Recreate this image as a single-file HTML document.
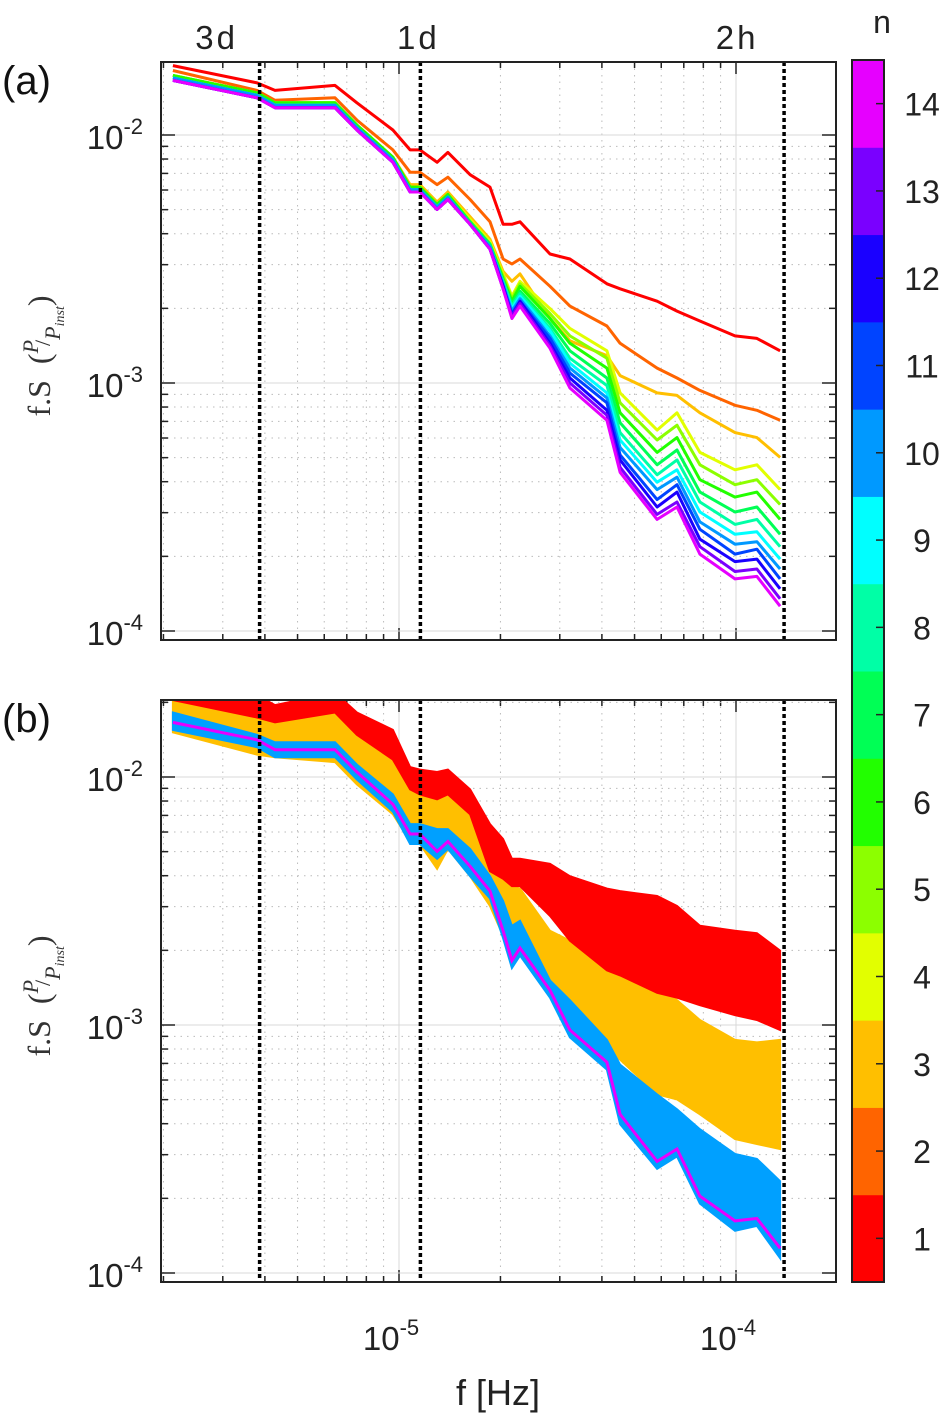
<!DOCTYPE html>
<html><head><meta charset="utf-8"><style>
html,body{margin:0;padding:0;background:#fff;}
svg{display:block;font-family:"Liberation Sans",sans-serif;}
</style></head><body>
<svg id="fig" width="945" height="1417" viewBox="0 0 945 1417" xmlns="http://www.w3.org/2000/svg"></svg>
<script>
// ---- data (log10 values) ----
const logFreq = [-5.671,-5.421,-5.368,-5.190,-5.125,-5.018,-4.967,-4.938,-4.887,-4.855,-4.789,-4.730,-4.691,-4.665,-4.641,-4.552,-4.493,-4.383,-4.344,-4.234,-4.175,-4.107,-4.003,-3.938,-3.869];
const seriesN1  = [-1.72,-1.79,-1.82,-1.80,-1.87,-1.98,-2.06,-2.06,-2.11,-2.07,-2.16,-2.21,-2.36,-2.36,-2.35,-2.48,-2.50,-2.60,-2.62,-2.67,-2.71,-2.75,-2.81,-2.82,-2.87];
const seriesN2  = [-1.74,-1.82,-1.86,-1.85,-1.94,-2.06,-2.15,-2.15,-2.20,-2.17,-2.26,-2.35,-2.50,-2.52,-2.50,-2.61,-2.69,-2.77,-2.84,-2.94,-2.98,-3.03,-3.09,-3.11,-3.15];
const seriesN3  = [-1.76,-1.83,-1.87,-1.87,-1.96,-2.09,-2.20,-2.20,-2.27,-2.23,-2.33,-2.42,-2.55,-2.59,-2.56,-2.74,-2.83,-2.89,-2.97,-3.04,-3.05,-3.12,-3.20,-3.22,-3.30];
const seriesN4  = [-1.76,-1.83,-1.87,-1.87,-1.96,-2.09,-2.21,-2.21,-2.28,-2.24,-2.34,-2.43,-2.56,-2.65,-2.59,-2.70,-2.78,-2.87,-3.04,-3.19,-3.12,-3.28,-3.35,-3.33,-3.43];
const seriesN5  = [-1.76,-1.83,-1.87,-1.87,-1.96,-2.09,-2.21,-2.21,-2.28,-2.24,-2.35,-2.44,-2.57,-2.66,-2.60,-2.72,-2.81,-2.90,-3.08,-3.23,-3.17,-3.33,-3.41,-3.39,-3.49];
const seriesN6  = [-1.76,-1.83,-1.87,-1.87,-1.96,-2.09,-2.21,-2.21,-2.28,-2.24,-2.35,-2.44,-2.58,-2.67,-2.61,-2.74,-2.84,-2.94,-3.12,-3.28,-3.22,-3.39,-3.46,-3.44,-3.55];
const seriesN7  = [-1.77,-1.84,-1.88,-1.88,-1.97,-2.10,-2.22,-2.22,-2.29,-2.25,-2.35,-2.44,-2.59,-2.68,-2.63,-2.76,-2.87,-2.98,-3.16,-3.33,-3.27,-3.44,-3.52,-3.50,-3.61];
const seriesN8  = [-1.77,-1.84,-1.88,-1.88,-1.97,-2.10,-2.22,-2.22,-2.29,-2.25,-2.36,-2.45,-2.59,-2.69,-2.64,-2.78,-2.90,-3.01,-3.20,-3.37,-3.31,-3.48,-3.57,-3.55,-3.66];
const seriesN9  = [-1.77,-1.84,-1.88,-1.88,-1.97,-2.10,-2.22,-2.22,-2.29,-2.25,-2.36,-2.45,-2.60,-2.70,-2.65,-2.79,-2.92,-3.04,-3.23,-3.40,-3.35,-3.52,-3.61,-3.60,-3.71];
const seriesN10 = [-1.77,-1.84,-1.88,-1.88,-1.97,-2.10,-2.22,-2.22,-2.29,-2.25,-2.36,-2.45,-2.60,-2.71,-2.66,-2.81,-2.94,-3.06,-3.26,-3.43,-3.38,-3.56,-3.65,-3.64,-3.75];
const seriesN11 = [-1.78,-1.85,-1.89,-1.89,-1.98,-2.11,-2.23,-2.23,-2.30,-2.26,-2.36,-2.46,-2.61,-2.72,-2.67,-2.82,-2.96,-3.08,-3.29,-3.47,-3.41,-3.59,-3.69,-3.67,-3.79];
const seriesN12 = [-1.78,-1.85,-1.89,-1.89,-1.98,-2.11,-2.23,-2.23,-2.30,-2.26,-2.36,-2.46,-2.61,-2.73,-2.67,-2.84,-2.98,-3.11,-3.31,-3.50,-3.44,-3.63,-3.72,-3.71,-3.83];
const seriesN13 = [-1.78,-1.85,-1.89,-1.89,-1.98,-2.11,-2.23,-2.23,-2.30,-2.26,-2.36,-2.46,-2.62,-2.73,-2.68,-2.85,-3.00,-3.13,-3.34,-3.53,-3.48,-3.66,-3.76,-3.75,-3.87];
const seriesN14 = [-1.78,-1.85,-1.89,-1.89,-1.98,-2.11,-2.23,-2.23,-2.30,-2.26,-2.36,-2.46,-2.62,-2.74,-2.69,-2.86,-3.02,-3.15,-3.36,-3.55,-3.50,-3.69,-3.79,-3.78,-3.90];
// panel (b) envelopes
const redTop   = [-1.65,-1.67,-1.71,-1.66,-1.74,-1.81,-1.96,-1.97,-1.98,-1.97,-2.05,-2.19,-2.25,-2.33,-2.33,-2.35,-2.40,-2.45,-2.46,-2.48,-2.52,-2.60,-2.62,-2.63,-2.70];
const redBot   = [-1.69,-1.76,-1.78,-1.74,-1.83,-1.93,-2.05,-2.07,-2.09,-2.07,-2.15,-2.38,-2.41,-2.44,-2.44,-2.56,-2.66,-2.78,-2.80,-2.87,-2.89,-2.92,-2.96,-2.98,-3.02];
const amberTop = [-1.69,-1.76,-1.78,-1.74,-1.83,-1.93,-2.05,-2.07,-2.09,-2.07,-2.15,-2.38,-2.40,-2.44,-2.45,-2.62,-2.66,-2.72,-2.75,-2.84,-2.90,-2.98,-3.06,-3.07,-3.06];
const amberBot = [-1.82,-1.91,-1.92,-1.94,-2.03,-2.15,-2.26,-2.27,-2.37,-2.29,-2.40,-2.52,-2.64,-2.74,-2.72,-2.84,-2.94,-3.10,-3.14,-3.28,-3.30,-3.36,-3.46,-3.48,-3.50];
const blueTop  = [-1.74,-1.83,-1.86,-1.86,-1.95,-2.07,-2.19,-2.19,-2.21,-2.21,-2.29,-2.40,-2.50,-2.60,-2.58,-2.82,-2.90,-3.06,-3.16,-3.28,-3.34,-3.42,-3.52,-3.54,-3.63];
const blueBot  = [-1.81,-1.88,-1.92,-1.92,-2.01,-2.14,-2.27,-2.27,-2.33,-2.29,-2.40,-2.49,-2.65,-2.77,-2.72,-2.89,-3.05,-3.18,-3.40,-3.58,-3.53,-3.72,-3.83,-3.81,-3.94];
const cbLabels = ["1","2","3","4","5","6","7","8","9","10","11","12","13","14"];
const cbColors = ["#ff0000","#ff6400","#ffbf00","#e2ff00","#8cff00","#22ff00","#00ff55","#00ffa6","#00ffff","#0099ff","#0044ff","#1a00ff","#7a00ff","#e600ff"];
const yTickExp = [-2,-3,-4];
const xTickExp = [-5,-4];
const markerLabels = ["3d","1d","2h"];
const markerFreq = [1/(3*86400), 1/86400, 1/7200];
const markerLabelShift = [-43,-2,-47];

const NS="http://www.w3.org/2000/svg";
const svg=document.getElementById('fig');
function mk(tag,attrs,parent){const e=document.createElementNS(NS,tag);for(const k in attrs)e.setAttribute(k,attrs[k]);(parent||svg).appendChild(e);return e;}
const X0=161,X1=836;
const xs=lf=>399+(lf+5)*337;
function panelY(top,bot,y2){return {top,bot,y:le=>y2+(-2-le)*248};}
const PA=panelY(62,640,135), PB=panelY(700,1282,777);
const allSeries=[seriesN1,seriesN2,seriesN3,seriesN4,seriesN5,seriesN6,seriesN7,seriesN8,seriesN9,seriesN10,seriesN11,seriesN12,seriesN13,seriesN14];

function pathOf(vals,P){return vals.map((v,i)=>(i?'L':'M')+xs(logFreq[i]).toFixed(1)+','+P.y(v).toFixed(1)).join('');}
function bandOf(up,lo,P){let d=pathOf(up,P);for(let i=lo.length-1;i>=0;i--)d+='L'+xs(logFreq[i]).toFixed(1)+','+P.y(lo[i]).toFixed(1);return d+'Z';}

function axes(P,name){
  const g=mk('g',{});
  
  
  const cid='clip-'+name;
  const cp=mk('clipPath',{id:cid},g);mk('rect',{x:X0,y:P.top,width:X1-X0,height:P.bot-P.top},cp);
  for(let d=-6;d<=-4;d++)for(let m=1;m<=9;m++){const x=xs(d+Math.log10(m));if(x<=X0+1||x>=X1-1)continue;
    mk('line',{x1:x,x2:x,y1:P.top,y2:P.bot,stroke:m==1?'#d8d8d8':'#bbb','stroke-width':1,'stroke-dasharray':m==1?'':'1.5,5'},g);
    mk('line',{x1:x,x2:x,y1:P.bot,y2:P.bot-(m==1?12:6),stroke:'#222','stroke-width':1.5},g);
    mk('line',{x1:x,x2:x,y1:P.top,y2:P.top+(m==1?12:6),stroke:'#222','stroke-width':1.5},g);}
  for(let d=-5;d<=-2;d++)for(let m=1;m<=9;m++){const y=P.y(d+Math.log10(m));if(y<=P.top+1||y>=P.bot-1)continue;
    mk('line',{x1:X0,x2:X1,y1:y,y2:y,stroke:m==1?'#d8d8d8':'#bbb','stroke-width':1,'stroke-dasharray':m==1?'':'1.5,5'},g);
    mk('line',{x1:X0,x2:X0+(m==1?14:7),y1:y,y2:y,stroke:'#222','stroke-width':1.5},g);
    mk('line',{x1:X1,x2:X1-(m==1?14:7),y1:y,y2:y,stroke:'#222','stroke-width':1.5},g);}
  const data=mk('g',{'clip-path':`url(#${cid})`},g);
  return {g,data};
}

const A=axes(PA,'panel-a');
allSeries.forEach((s,i)=>{
  const p=mk('path',{d:pathOf(s,PA),fill:'none',stroke:cbColors[i],'stroke-width':3,'stroke-linejoin':'round'},A.data);
  
  
});
const B=axes(PB,'panel-b');
const bandAmber=mk('path',{d:bandOf(amberTop,amberBot,PB),fill:'#ffbf00',stroke:'#ffbf00','stroke-width':2},B.data);


const bandRed=mk('path',{d:bandOf(redTop,redBot,PB),fill:'#ff0000',stroke:'#ff0000','stroke-width':2},B.data);


const bandBlue=mk('path',{d:bandOf(blueTop,blueBot,PB),fill:'#00a0ff',stroke:'#00a0ff','stroke-width':2},B.data);


const magB=mk('path',{d:pathOf(seriesN14,PB),fill:'none',stroke:'#e600ff','stroke-width':3},B.data);



[[PA,A],[PB,B]].forEach(([P,ax],pi)=>{
  markerFreq.forEach((f,i)=>{const x=xs(Math.log10(f));
    const l=mk('line',{x1:x,x2:x,y1:P.top,y2:P.bot,stroke:'#000','stroke-width':3.5,'stroke-dasharray':'4,3'},ax.g);
    
    });
  mk('rect',{x:X0,y:P.top,width:X1-X0,height:P.bot-P.top,fill:'none',stroke:'#222','stroke-width':2},ax.g);
  yTickExp.forEach(e=>{const y=P.y(e);
    const t=mk('text',{x:143,y:y+14,'font-size':33,'text-anchor':'end',fill:'#222'},ax.g);
    
    
    t.innerHTML=`10<tspan dy="-15" font-size="22">${e}</tspan>`;});
  const yl=mk('text',{transform:`translate(50,${(P.top+P.bot)/2+5}) rotate(-90)`,'text-anchor':'middle','font-size':32,'font-family':'"Liberation Serif",serif',fill:'#333'},ax.g);
  
  
  yl.innerHTML='f.S &#160;(<tspan font-style="italic" font-size="22" dy="-12">P</tspan><tspan font-size="22" dy="12" dx="-6">/</tspan><tspan font-style="italic" font-size="22" dy="10">P</tspan><tspan font-style="italic" font-size="14" dy="4">inst</tspan><tspan dy="-14">)</tspan>';
  const pl=mk('text',{x:2,y:P.top+32,'font-size':40,fill:'#111'},ax.g);
  
  
  pl.textContent=pi?'(b)':'(a)';
});
markerLabels.forEach((s,i)=>{const t=mk('text',{x:xs(Math.log10(markerFreq[i]))+markerLabelShift[i],y:49,'font-size':33,'text-anchor':'middle',fill:'#222','letter-spacing':'3'});
  
  
  t.textContent=s;});
xTickExp.forEach(e=>{const t=mk('text',{x:xs(e)-8,y:1350,'font-size':33,'text-anchor':'middle',fill:'#222'});
  
  
  t.innerHTML=`10<tspan dy="-15" font-size="22">${e}</tspan>`;});
const xt=mk('text',{x:498,y:1405,'font-size':36,'text-anchor':'middle',fill:'#222'});


xt.textContent='f [Hz]';

const CB={x:852,w:32,top:60,bot:1282};
const seg=(CB.bot-CB.top)/cbLabels.length;
const cbg=mk('g',{});


cbLabels.forEach((lab,i)=>{const y0=CB.bot-(i+1)*seg;
  const r=mk('rect',{x:CB.x,y:y0,width:CB.w,height:seg+0.5,fill:cbColors[i]},cbg);
  
  
  mk('line',{x1:CB.x+CB.w-8,x2:CB.x+CB.w,y1:y0+seg/2,y2:y0+seg/2,stroke:'#222','stroke-width':1.5},cbg);
  const t=mk('text',{x:922,y:y0+seg/2+12,'font-size':32,'text-anchor':'middle',fill:'#222'},cbg);
  
  
  t.textContent=lab;});
mk('rect',{x:CB.x,y:CB.top,width:CB.w,height:CB.bot-CB.top,fill:'none',stroke:'#222','stroke-width':2},cbg);
const ct=mk('text',{x:882,y:33,'font-size':32,'text-anchor':'middle',fill:'#222'},cbg);


ct.textContent='n';
</script>
</body></html>
